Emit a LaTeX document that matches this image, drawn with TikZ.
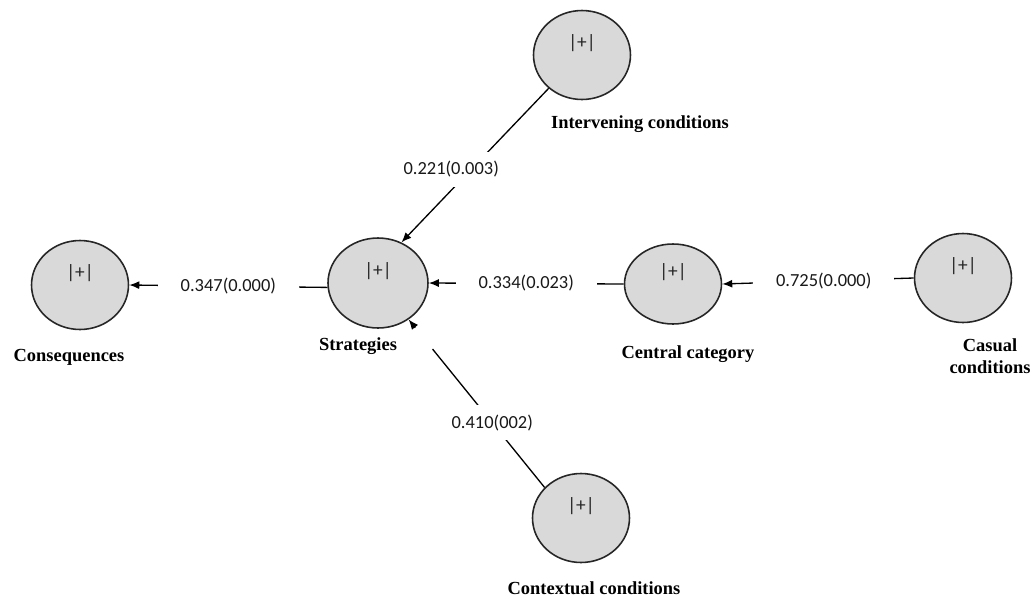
\documentclass[tikz,border=0pt]{standalone}
\usepackage{fontspec}
\setmainfont{Liberation Serif}
\newfontfamily\carlito{Carlito}
\usetikzlibrary{shapes.geometric,arrows.meta,calc}

\begin{document}
\begin{tikzpicture}[
     x=0.02cm, y=-0.02cm,
     plus/.style={font=\fontsize{11}{12}\selectfont\carlito,text=black!85},
     cat/.style={ellipse,draw=black!85,line width=0.9pt,fill=black!15,inner sep=0pt,
       minimum width=1.94cm,minimum height=1.78cm,
       label={[plus,yshift=0.24cm]center:{|+|}}},
     ttl/.style={font=\fontsize{10.5}{12.5}\selectfont\bfseries,align=center},
     wt/.style={font=\fontsize{10.5}{12}\selectfont\carlito,text=black!90,fill=white,
       inner xsep=0.46cm,inner ysep=0.19cm},
     ln/.style={line width=0.75pt},
     arr/.style={ln,-{Latex[length=2mm,width=1.6mm]}}
   ]
   \path[use as bounding box] (0,0) rectangle (1032,599);
   % Categories.
   \node[cat] (cons) at (80,285) {};
   \node[cat,minimum width=2cm,minimum height=1.8cm] (strat) at (378,283) {};
   \node[cat] (inter) at (582,55) {};
   \node[cat,minimum height=1.6cm] (central) at (673,284) {};
   \node[cat] (casual) at (963,278) {};
   \node[cat] (ctx) at (581,518) {};
   \node[ttl] (consT) at (69,357) {Consequences};
   \node[ttl] (stratT) at (358,346) {Strategies};
   \node[ttl] (interT) at (640,124) {Intervening conditions};
   \node[ttl] (centralT) at (688,354) {Central category};
   \node[ttl] (casualT) at (990,356) {Casual\\conditions};
   \node[ttl] (ctxT) at (594,588) {Contextual conditions};
   % Paths.
   \draw[arr] (strat.185) -- node[wt]{0.347(0.000)} (cons.east);
   \draw[arr] (central.west) -- node[wt]{0.334(0.023)} (strat.east);
   \draw[arr] (casual.west) -- node[wt,pos=0.47]{0.725(0.000)} (central.east);
   \draw[arr] (inter.225) -- node[wt,pos=0.526,xshift=-0.4cm]{0.221(0.003)} (strat.60);
   \draw[ln,shorten >=0.76cm] (ctx.140) -- node[wt,pos=0.385]{0.410(002)} (strat.-50);
   \draw[arr] ($(strat.-50)!0.21cm!(ctx.140)$) -- (strat.-50);
 \end{tikzpicture}
\end{document}
